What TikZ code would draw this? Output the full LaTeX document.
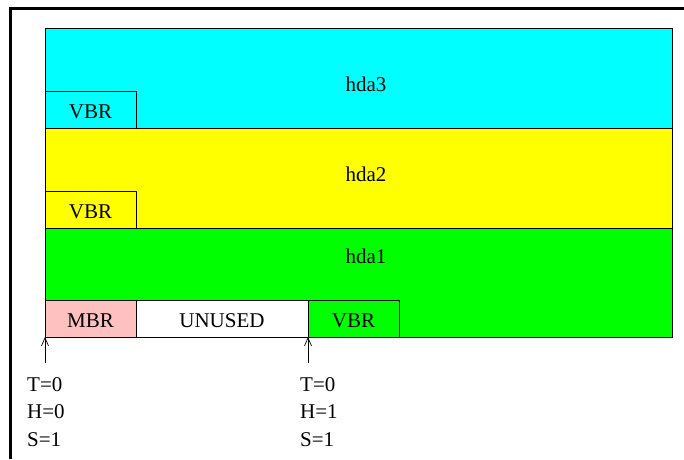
\documentclass[tikz,border=0pt]{standalone}
\usepackage{fontspec}
\setmainfont{Liberation Serif}
\usetikzlibrary{positioning,arrows.meta}

\definecolor{partcyan}{RGB}{0,255,255}
\definecolor{partyellow}{RGB}{255,255,0}
\definecolor{partgreen}{RGB}{0,255,0}
\definecolor{mbrpink}{RGB}{255,192,192}

\begin{document}
\begin{tikzpicture}[x=1pt,y=-1pt,
	every node/.style={font=\fontsize{21}{26}\selectfont},
	band/.style={draw, line width=0.8pt, inner sep=0pt, outer sep=0pt, minimum width=627pt},
	box/.style={draw, line width=0.8pt, inner sep=0pt, outer sep=0pt, minimum width=91pt, minimum height=37pt, text height=18pt, text depth=0pt},
	arr/.style={-{Straight Barb[length=8pt,width=7pt]}, line width=0.7pt}]
	\useasboundingbox (0,0) rectangle (684,459);
	\draw[line width=3pt] (10.5,459) -- (10.5,8) -- (684,8);

	% the three partitions
	\node[band, fill=partcyan, minimum height=100pt, anchor=north west] (hda3) at (45,28) {};
	\node[band, fill=partyellow, minimum height=100pt] (hda2) [below=0pt of hda3] {};
	\node[band, fill=partgreen, minimum height=109pt] (hda1) [below=0pt of hda2] {};
	\node[anchor=base] (l3) at (366,91) {hda3};
	\node[anchor=base] (l2) at (366,181) {hda2};
	\node[anchor=base] (l1) at (366,263) {hda1};

	% boot records
	\node[box, fill=partcyan, anchor=south west] (vbr3) at (hda3.south west) {VBR};
	\node[box, fill=partyellow, anchor=south west] (vbr2) at (hda2.south west) {VBR};
	\node[box, fill=mbrpink, anchor=south west] (mbr) at (hda1.south west) {MBR};
	\node[box, fill=white, minimum width=172pt] (unused) [right=0pt of mbr] {UNUSED};
	\node[box, fill=partgreen] (vbr1) [right=0pt of unused] {VBR};

	% sector addresses
	\coordinate (p0) at (45,363);
	\coordinate (p1) at (308,363);
	\draw[arr] (p0) -- (mbr.south west);
	\draw[arr] (p1) -- (vbr1.south west);

	\node[anchor=base west, inner sep=0pt] (t0) at (27,391) {T=0};
	\node[anchor=base west, inner sep=0pt] (h0) at (27,418.5) {H=0};
	\node[anchor=base west, inner sep=0pt] (s0) at (27,446) {S=1};
	\node[anchor=base west, inner sep=0pt] (t1) at (300,391) {T=0};
	\node[anchor=base west, inner sep=0pt] (h1) at (300,418.5) {H=1};
	\node[anchor=base west, inner sep=0pt] (s1) at (300,446) {S=1};
\end{tikzpicture}
\end{document}
